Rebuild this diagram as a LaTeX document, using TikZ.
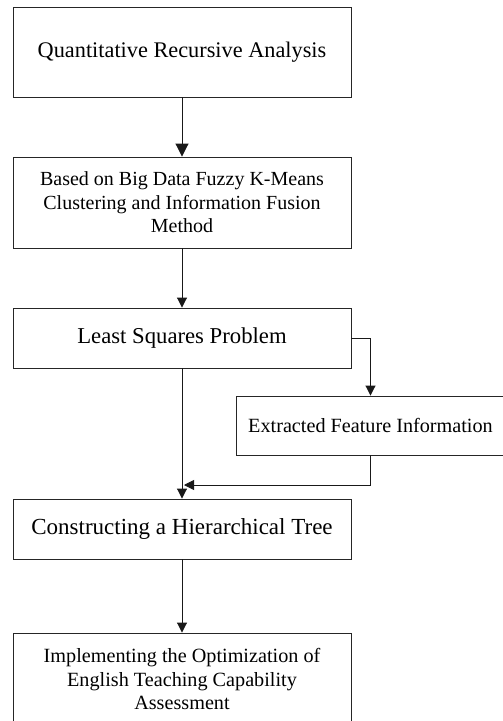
\documentclass[tikz,border=0pt]{standalone}
\usepackage{fontspec}
\setmainfont{Liberation Serif}
\usetikzlibrary{arrows.meta}
\begin{document}
\begin{tikzpicture}[x=1pt,y=-1pt,
  boxst/.style={draw=black!85,line width=0.9pt,rectangle,align=center,inner sep=0pt},
  conn/.style={draw=black!90,line width=0.9pt,-{Triangle[length=10pt,width=10pt]}},
  bigconn/.style={draw=black!90,line width=0.9pt,-{Triangle[length=13pt,width=13pt]}}]
\useasboundingbox (0,0) rectangle (503,721);
\clip (0,0) rectangle (503,721);
\node[boxst,font=\fontsize{22.3}{26}\selectfont,minimum width=338pt,minimum height=90pt] (b1) at (182,52) {Quantitative Recursive Analysis};
\node[boxst,font=\fontsize{20}{23.5}\selectfont,minimum width=338pt,minimum height=91pt] (b2) at (182,202.5) {Based on Big Data Fuzzy K-Means\\Clustering and Information Fusion\\Method};
\node[boxst,font=\fontsize{22.7}{26}\selectfont,minimum width=338pt,minimum height=60pt] (b3) at (182,338) {Least Squares Problem};
\node[boxst,font=\fontsize{20.2}{24}\selectfont,minimum width=269pt,minimum height=59pt] (b4) at (370.5,425.5) {Extracted Feature Information};
\node[boxst,font=\fontsize{23}{26}\selectfont,minimum width=338pt,minimum height=60pt] (b5) at (182,529) {Constructing a Hierarchical Tree};
\node[boxst,font=\fontsize{20.2}{23.5}\selectfont,minimum width=338pt,minimum height=92pt] (b6) at (182,679) {Implementing the Optimization of\\English Teaching Capability\\Assessment};
\coordinate (j) at (184,485);
\draw[bigconn] (b1) -- (b2);
\draw[conn] (b2) -- (b3);
\draw[conn] (b3.east) -| (b4.north);
\draw[conn] (b3.south) -- (b5.north);
\draw[conn] (b4.south) |- (j);
\draw[conn] (b5) -- (b6);
\end{tikzpicture}
\end{document}
